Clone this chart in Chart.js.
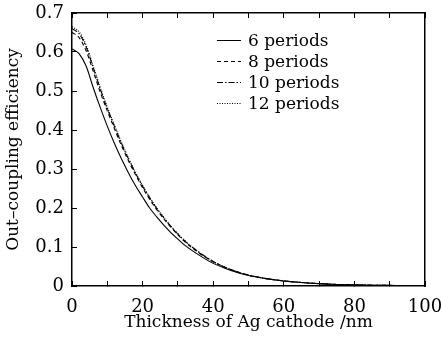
<!DOCTYPE html>
<html>
<head>
<meta charset="utf-8">
<script src="https://cdn.jsdelivr.net/npm/chart.js@4"></script>
<style>
  html, body { margin: 0; padding: 0; background: #fff; }
  #wrap { width: 441px; height: 337px; }
</style>
</head>
<body>
<div id="wrap"><canvas id="myChart" width="441" height="337"></canvas></div>
<script>
// Ag cathode thickness (nm)
var thickness = [0, 2, 4, 6, 8, 10, 12, 14, 16, 18, 20, 22, 24, 26, 28, 30, 32, 35, 40, 45, 50, 55, 60, 65, 70, 75, 80, 85, 90, 95, 100];

var periods6 = [0.608, 0.596, 0.564, 0.509, 0.458, 0.410, 0.366, 0.326, 0.290, 0.257, 0.228, 0.200, 0.177, 0.156, 0.137, 0.120, 0.104, 0.085, 0.058, 0.040, 0.027, 0.019, 0.013, 0.009, 0.006, 0.004, 0.003, 0.002, 0.0015, 0.001, 0.001];
var periods8 = [0.650, 0.637, 0.603, 0.551, 0.497, 0.449, 0.404, 0.360, 0.321, 0.285, 0.252, 0.222, 0.196, 0.172, 0.151, 0.131, 0.113, 0.091, 0.062, 0.042, 0.028, 0.019, 0.013, 0.009, 0.006, 0.004, 0.003, 0.002, 0.0015, 0.001, 0.001];
var periods10 = [0.660, 0.647, 0.613, 0.560, 0.505, 0.455, 0.410, 0.366, 0.326, 0.289, 0.256, 0.226, 0.199, 0.175, 0.153, 0.133, 0.115, 0.093, 0.063, 0.042, 0.028, 0.019, 0.013, 0.009, 0.006, 0.004, 0.003, 0.002, 0.0015, 0.001, 0.001];
var periods12 = [0.665, 0.652, 0.618, 0.564, 0.509, 0.459, 0.413, 0.369, 0.328, 0.291, 0.258, 0.228, 0.200, 0.176, 0.154, 0.134, 0.116, 0.093, 0.063, 0.042, 0.028, 0.019, 0.013, 0.009, 0.006, 0.004, 0.003, 0.002, 0.0015, 0.001, 0.001];

var seriesLabels = ["6 periods", "8 periods", "10 periods", "12 periods"];
var seriesValues = [periods6, periods8, periods10, periods12];
var dashes = [[], [4, 3], [6, 2, 1.5, 2], [1, 1.5]];

var serif = "'DejaVu Serif', 'Liberation Serif', serif";

function points(vals) {
    return thickness.map(function (t, i) { return { x: t, y: vals[i] }; });
}

var datasets = seriesValues.map(function (vals, i) {
    return {
        label: seriesLabels[i],
        data: points(vals),
        borderColor: "#000",
        borderWidth: 1.1,
        borderDash: dashes[i],
        pointRadius: 0,
        fill: false,
        cubicInterpolationMode: 'monotone'
    };
});

// legend drawn inside the plot, line sample + label
var insideLegend = {
    id: 'insideLegend',
    afterDatasetsDraw: function (chart) {
        var ctx = chart.ctx;
        var x0 = 217, y0 = 40, rowH = 20.9;
        ctx.save();
        ctx.font = "17px " + serif;
        ctx.fillStyle = "#000";
        ctx.textBaseline = 'middle';
        chart.data.datasets.forEach(function (ds, i) {
            var y = Math.round(y0 + i * rowH) + 0.5;
            ctx.strokeStyle = "#000";
            ctx.lineWidth = 1;
            ctx.setLineDash(ds.borderDash);
            ctx.beginPath();
            ctx.moveTo(x0, y);
            ctx.lineTo(x0 + 24, y);
            ctx.stroke();
            ctx.setLineDash([]);
            ctx.fillText(ds.label, x0 + 31, y + 1);
        });
        ctx.restore();
    }
};

// fixed scale sizes, no extra label overflow padding
function fixSize(w, h) {
    return function (s) {
        if (w !== null) s.width = w;
        if (h !== null) s.height = h;
        s.paddingTop = 0; s.paddingBottom = 0; s.paddingLeft = 0; s.paddingRight = 0;
    };
}

var ctx = document.getElementById('myChart');
new Chart(ctx, {
    type: 'line',
    data: { datasets: datasets },
    plugins: [insideLegend],
    options: {
        responsive: false,
        animation: false,
        layout: { padding: { top: 13, right: 16, left: 0, bottom: 0 } },
        plugins: {
            legend: { display: false },
            tooltip: { enabled: false }
        },
        scales: {
            x: {
                type: 'linear',
                min: 0,
                max: 100,
                afterFit: fixSize(null, 51),
                border: { display: true, color: '#000', width: 1.5 },
                grid: { drawOnChartArea: false, drawTicks: true, tickLength: -5, color: '#000' },
                ticks: {
                    stepSize: 10,
                    padding: 16,
                    color: '#000',
                    font: { family: serif, size: 18 },
                    maxRotation: 0,
                    autoSkip: false,
                    callback: function (v) { return v % 20 === 0 ? String(v) : ''; }
                },
                title: {
                    display: true,
                    text: 'Thickness of Ag cathode /nm',
                    color: '#000',
                    font: { family: serif, size: 17 },
                    padding: { top: 4, bottom: 4 }
                }
            },
            xTop: {
                type: 'linear',
                position: 'top',
                min: 0,
                max: 100,
                afterFit: fixSize(null, 0),
                border: { display: true, color: '#000', width: 1.5 },
                grid: { drawOnChartArea: false, drawTicks: true, tickLength: -5, color: '#000' },
                ticks: { stepSize: 10, display: false }
            },
            y: {
                type: 'linear',
                min: 0,
                max: 0.7,
                afterFit: fixSize(72, null),
                border: { display: true, color: '#000', width: 1.5 },
                grid: { drawOnChartArea: false, drawTicks: true, tickLength: -5, color: '#000' },
                ticks: {
                    stepSize: 0.1,
                    padding: 13,
                    color: '#000',
                    font: { family: serif, size: 18 },
                    callback: function (v) { return v === 0 ? '0' : v.toFixed(1); }
                },
                title: {
                    display: true,
                    text: 'Out–coupling efficiency',
                    color: '#000',
                    font: { family: serif, size: 17 },
                    padding: { top: 3, bottom: 0 }
                }
            },
            yRight: {
                type: 'linear',
                position: 'right',
                min: 0,
                max: 0.7,
                afterFit: fixSize(0, null),
                border: { display: true, color: '#000', width: 1.5 },
                grid: { display: false },
                ticks: { display: false }
            }
        }
    }
});
</script>
</body>
</html>
